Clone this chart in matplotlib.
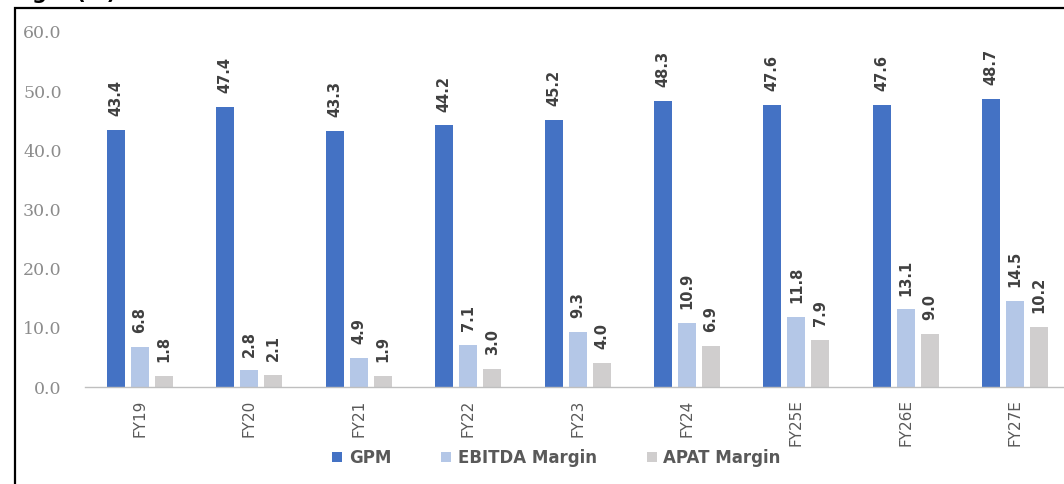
import numpy as np
import matplotlib.pyplot as plt
from matplotlib.patches import Rectangle, Patch

# Margin data (%)
years = ['FY19', 'FY20', 'FY21', 'FY22', 'FY23', 'FY24', 'FY25E', 'FY26E', 'FY27E']
gpm = [43.4, 47.4, 43.3, 44.2, 45.2, 48.3, 47.6, 47.6, 48.7]
ebitda_margin = [6.8, 2.8, 4.9, 7.1, 9.3, 10.9, 11.8, 13.1, 14.5]
apat_margin = [1.8, 2.1, 1.9, 3.0, 4.0, 6.9, 7.9, 9.0, 10.2]

series = [('GPM', gpm, '#4472C4'),
          ('EBITDA Margin', ebitda_margin, '#B4C7E7'),
          ('APAT Margin', apat_margin, '#D0CECE')]

W, H = 1064, 484
fig = plt.figure(figsize=(W / 100, H / 100), dpi=100)
fig.patch.set_facecolor('white')

# heading sits mostly above the top edge
fig.text(-0.012, 1 + 1 / H, 'Margin (%)', fontsize=15, fontweight='bold',
         color='black', va='baseline', ha='left')

# black frame around the chart
fig.patches.append(Rectangle((15 / W, -0.05), 1.2, 1 - 8 / H + 0.05,
                             transform=fig.transFigure, fill=False,
                             edgecolor='black', linewidth=1.6))

ax = fig.add_axes([85.3 / W, (H - 387) / H, 984.6 / W, 355 / H])
ax.set_xlim(-0.5, 8.5)
ax.set_ylim(0, 60)

x = np.arange(len(years))
width = 0.165
step = 0.22
for i, (name, vals, color) in enumerate(series):
    pos = x + (i - 1) * step
    ax.bar(pos, vals, width=width, color=color, label=name, zorder=2)
    for p, v in zip(pos, vals):
        ax.annotate(f'{v:.1f}', (p, v), xytext=(0, 10), textcoords='offset points',
                    rotation=90, ha='center', va='bottom', fontsize=10.5,
                    fontweight='bold', color='#404040', family='Liberation Sans Narrow')

for s in ['top', 'right', 'left']:
    ax.spines[s].set_visible(False)
ax.spines['bottom'].set_color('#BFBFBF')
ax.spines['bottom'].set_linewidth(1.0)

ax.set_yticks(np.arange(0, 61, 10))
ax.set_yticklabels([f'{v:.1f}' for v in np.arange(0, 61, 10)],
                   fontsize=12.5, color='#8C8C8C', family='DejaVu Serif')
ax.tick_params(axis='y', length=0, pad=17)

ax.set_xticks(x)
ax.set_xticklabels(years, rotation=90, fontsize=11, color='#595959',
                   family='Liberation Sans Narrow')
ax.tick_params(axis='x', length=0, pad=9)

handles = [Patch(facecolor=c, label=n) for n, _, c in series]
leg = fig.legend(handles=handles, loc='center', bbox_to_anchor=(0.523, (H - 458) / H),
                 ncol=3, frameon=False, handlelength=0.6, handleheight=0.6,
                 handletextpad=0.4, columnspacing=3.0,
                 prop={'size': 12, 'weight': 'bold'})
for t in leg.get_texts():
    t.set_color('#595959')

fig.savefig('out.png', dpi=100, facecolor='white')
